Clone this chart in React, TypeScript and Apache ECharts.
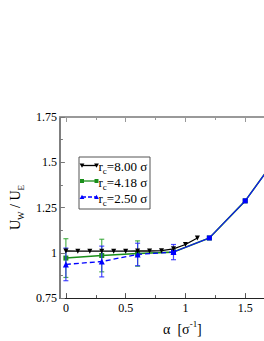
import React, { useEffect, useRef } from "react";
import * as echarts from "echarts";

const FONT = "'Liberation Serif', 'Times New Roman', serif";

// r_c = 8.00 sigma (black, down triangles)
const x8 = [0, 0.1, 0.2, 0.3, 0.4, 0.5, 0.6, 0.7, 0.8, 0.9, 1.0, 1.1];
const y8 = [1.01, 1.009, 1.009, 1.009, 1.009, 1.009, 1.01, 1.01, 1.012, 1.022, 1.046, 1.082];

// r_c = 4.18 sigma (green squares)
const x418 = [0, 0.3, 0.6, 0.9, 1.2, 1.5, 1.8];
const y418 = [0.971, 0.985, 0.996, 1.004, 1.082, 1.287, 1.56];
const e418 = [0.107, 0.09, 0.07, 0, 0, 0, 0];

// r_c = 2.50 sigma (blue triangles, dashed)
const x250 = [0, 0.3, 0.6, 0.9];
const y250 = [0.936, 0.952, 0.991, 1.004];
const e250 = [0.09, 0.085, 0.062, 0.042];

// blue continuation (squares, solid)
const xBlue = [0.9, 1.2, 1.5, 1.8];
const yBlue = [1.004, 1.082, 1.287, 1.56];

const xMajorTicks = [0, 0.5, 1, 1.5, 2];
const xLabels = [0, 0.5, 1, 1.5];
const xMinor = [0.25, 0.75, 1.25, 1.75];
const legendLabels = ["=8.00 σ", "=4.18 σ", "=2.50 σ"];

const zip = (xs: number[], ys: number[]) => xs.map((x, i) => [x, ys[i]]);
const zip3 = (xs: number[], ys: number[], es: number[]) => xs.map((x, i) => [x, ys[i], es[i]]);

function errRender(color: string) {
  return (params: any, api: any) => {
    const x = api.value(0);
    const y = api.value(1);
    const e = api.value(2);
    if (!e) return null;
    const t = api.coord([x, y + e]);
    const b = api.coord([x, y - e]);
    const hw = 2.5;
    const st = { stroke: color, lineWidth: 1.2 };
    return {
      type: "group",
      children: [
        { type: "line", shape: { x1: t[0], y1: t[1], x2: b[0], y2: b[1] }, style: st },
        { type: "line", shape: { x1: t[0] - hw, y1: t[1], x2: t[0] + hw, y2: t[1] }, style: st },
        { type: "line", shape: { x1: b[0] - hw, y1: b[1], x2: b[0] + hw, y2: b[1] }, style: st },
      ],
    };
  };
}

export default function App() {
  const ref = useRef<HTMLDivElement>(null);
  useEffect(() => {
    if (!ref.current) return;
    const chart = echarts.init(ref.current, null, { renderer: "svg" });
    const labelStyle = { fontFamily: FONT, fontSize: 12, color: "#000" };
    const baseX = {
      type: "value",
      min: -0.05,
      max: 2,
      splitLine: { show: false },
    };
    const legendRows = [165.5, 181, 197];
    const legendX0 = 82;
    const legendX1 = 96.5;
    const tri = (cx: number, cy: number, down: boolean) =>
      down
        ? [[cx - 2.4, cy - 2], [cx + 2.4, cy - 2], [cx, cy + 2.2]]
        : [[cx - 2.4, cy + 2], [cx + 2.4, cy + 2], [cx, cy - 2.2]];
    const legendGraphics: any[] = [
      {
        type: "rect",
        shape: { x: 79, y: 157, width: 71, height: 52 },
        style: { fill: "#fff", stroke: "#555", lineWidth: 1 },
        z: 10,
      },
    ];
    const colors = ["#000", "#1a8f1a", "#0000ff"];
    legendRows.forEach((ry, i) => {
      legendGraphics.push({
        type: "line",
        shape: { x1: legendX0, y1: ry, x2: legendX1, y2: ry },
        style: { stroke: colors[i], lineWidth: 1.3, lineDash: i === 2 ? [4, 2] : null },
        z: 11,
      });
      [legendX0, legendX1].forEach((cx) => {
        if (i === 1) {
          legendGraphics.push({
            type: "rect",
            shape: { x: cx - 2, y: ry - 2, width: 4, height: 4 },
            style: { fill: colors[i] },
            z: 12,
          });
        } else {
          legendGraphics.push({
            type: "polygon",
            shape: { points: tri(cx, ry, i === 0) },
            style: { fill: colors[i] },
            z: 12,
          });
        }
      });
      legendGraphics.push({
        type: "text",
        x: 98.5,
        y: ry + 1,
        style: {
          text: "{a|r}{s|c}{a|" + legendLabels[i] + "}",
          verticalAlign: "middle",
          fontFamily: FONT,
          rich: {
            a: { fontFamily: FONT, fontSize: 13, lineHeight: 18, fill: "#000" },
            s: { fontFamily: FONT, fontSize: 9, lineHeight: 18, verticalAlign: "bottom", fill: "#000" },
          },
        },
        z: 12,
      });
    });

    chart.setOption({
      animation: false,
      textStyle: { fontFamily: FONT },
      grid: { left: 39, top: 117, width: 266, height: 183, containLabel: false },
      xAxis: [
        {
          ...baseX,
          position: "bottom",
          axisLine: { show: true, onZero: false, lineStyle: { color: "#222", width: 1.2 } },
          axisTick: { show: true, inside: true, length: 5, customValues: xMajorTicks, lineStyle: { color: "#555" } },
          axisLabel: { ...labelStyle, customValues: xLabels, margin: 4, formatter: (v: number) => String(v) },
          name: "{a|α  [σ}{p|-1}{a|]}",
          nameLocation: "middle",
          nameGap: 17,
          nameTextStyle: {
            fontFamily: FONT,
            rich: {
              a: { fontFamily: FONT, fontSize: 14, lineHeight: 20, color: "#000" },
              p: { fontFamily: FONT, fontSize: 9, lineHeight: 20, verticalAlign: "top", color: "#000" },
            },
          },
        },
        {
          ...baseX,
          position: "bottom",
          axisLine: { show: false, onZero: false },
          axisTick: { show: true, inside: true, length: 3, customValues: xMinor, lineStyle: { color: "#555" } },
          axisLabel: { show: false },
        },
        {
          ...baseX,
          position: "top",
          axisLine: { show: true, onZero: false, lineStyle: { color: "#999", width: 2 } },
          axisTick: { show: true, inside: true, length: 5, customValues: xMajorTicks, lineStyle: { color: "#999" } },
          axisLabel: { show: false },
        },
        {
          ...baseX,
          position: "top",
          axisLine: { show: false, onZero: false },
          axisTick: { show: true, inside: true, length: 3, customValues: xMinor, lineStyle: { color: "#999" } },
          axisLabel: { show: false },
        },
      ],
      yAxis: {
        type: "value",
        min: 0.75,
        max: 1.75,
        interval: 0.25,
        splitLine: { show: false },
        axisLine: { show: true, onZero: false, lineStyle: { color: "#555", width: 1.5 } },
        axisTick: { show: true, inside: true, length: 5, lineStyle: { color: "#777" } },
        minorTick: { show: true, splitNumber: 2, length: 3, lineStyle: { color: "#777" } },
        axisLabel: { ...labelStyle, margin: 3 },
        name: "{a|U}{s|W}{a| / U}{s|E}",
        nameLocation: "middle",
        nameGap: 31,
        nameTextStyle: {
          fontFamily: FONT,
          rich: {
            a: { fontFamily: FONT, fontSize: 14, lineHeight: 20, color: "#000" },
            s: { fontFamily: FONT, fontSize: 9, lineHeight: 20, verticalAlign: "bottom", color: "#000" },
          },
        },
      },
      series: [
        {
          type: "line",
          data: zip(x418, y418),
          symbol: "rect",
          symbolSize: 5,
          color: "#1a8f1a",
          lineStyle: { width: 1.6, color: "#1a8f1a" },
          z: 2,
        },
        {
          type: "custom",
          data: zip3(x418, y418, e418),
          encode: { x: 0, y: 1 },
          renderItem: errRender("rgba(40,160,40,0.8)"),
          z: 3,
        },
        {
          type: "line",
          data: zip(xBlue, yBlue),
          symbol: "rect",
          symbolSize: 5,
          color: "#0000ff",
          lineStyle: { width: 1.1, color: "#1010ff" },
          z: 4,
        },
        {
          type: "custom",
          data: zip3(x250, y250, e250),
          encode: { x: 0, y: 1 },
          renderItem: errRender("rgba(40,40,255,0.85)"),
          z: 5,
        },
        {
          type: "line",
          data: zip(x250, y250),
          symbol: "triangle",
          symbolSize: 6,
          color: "#0000ff",
          lineStyle: { width: 1.3, color: "#0000ff", type: [5, 3] },
          z: 6,
        },
        {
          type: "line",
          data: zip(x8, y8),
          symbol: "triangle",
          symbolRotate: 180,
          symbolSize: 5,
          color: "#000",
          lineStyle: { width: 1.3, color: "#000" },
          z: 7,
        },
      ],
      graphic: legendGraphics,
    });
    return () => chart.dispose();
  }, []);
  return (
    <div style={{ position: "fixed", left: 0, top: 0, width: 264, height: 341, overflow: "hidden", background: "#fff" }}>
      <div ref={ref} style={{ width: 340, height: 341 }} />
    </div>
  );
}
